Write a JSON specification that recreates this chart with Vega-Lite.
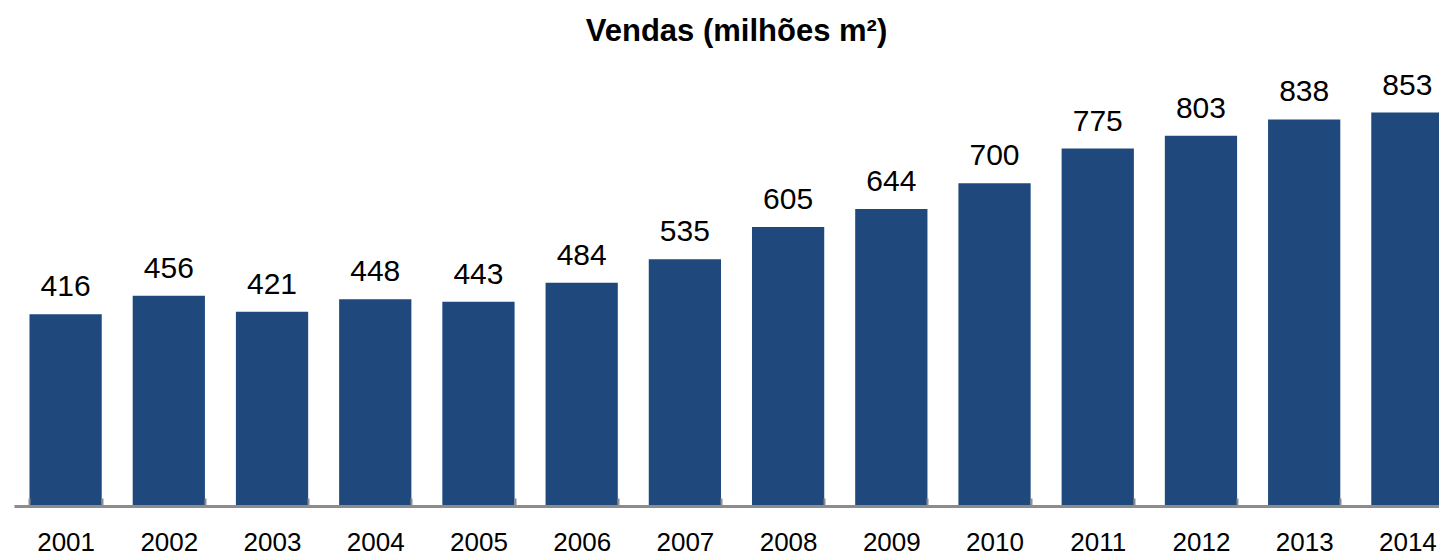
{
  "$schema": "https://vega.github.io/schema/vega-lite/v6.json",
  "autosize": {"type": "none"},
  "padding": {"left": 14, "top": 60, "right": 0, "bottom": 51},
  "width": 1445,
  "height": 446,
  "background": "white",
  "config": {"view": {"stroke": null}, "font": "Liberation Sans"},
  "title": {"text": "Vendas (milhões m²)", "font": "Liberation Sans", "fontSize": 31, "fontWeight": "bold", "color": "black", "anchor": "middle", "offset": 12},
  "data": {"values": [
    {"ano": "2001", "vendas": 416},
    {"ano": "2002", "vendas": 456},
    {"ano": "2003", "vendas": 421},
    {"ano": "2004", "vendas": 448},
    {"ano": "2005", "vendas": 443},
    {"ano": "2006", "vendas": 484},
    {"ano": "2007", "vendas": 535},
    {"ano": "2008", "vendas": 605},
    {"ano": "2009", "vendas": 644},
    {"ano": "2010", "vendas": 700},
    {"ano": "2011", "vendas": 775},
    {"ano": "2012", "vendas": 803},
    {"ano": "2013", "vendas": 838},
    {"ano": "2014", "vendas": 853}
  ]},
  "encoding": {
    "x": {"field": "ano", "type": "nominal", "sort": null,
      "scale": {"paddingInner": 0.3, "paddingOuter": 0.15},
      "axis": {"title": null, "labelAngle": 0, "labelFont": "Liberation Sans", "labelFontSize": 26, "labelColor": "black", "zindex": 1,
        "labelPadding": 31, "domainColor": "#8c8c8c", "domainWidth": 3, "tickColor": "#8c8c8c", "tickWidth": 2, "tickSize": -8, "tickBand": "extent", "grid": false}},
    "y": {"field": "vendas", "type": "quantitative", "scale": {"domain": [0, 967]}, "axis": null}
  },
  "layer": [
    {"mark": {"type": "bar", "color": "#1F497D"}},
    {"mark": {"type": "text", "baseline": "alphabetic", "dy": -18, "fontSize": 30, "font": "Liberation Sans", "color": "black"},
     "encoding": {"text": {"field": "vendas", "type": "quantitative"}}}
  ]
}
